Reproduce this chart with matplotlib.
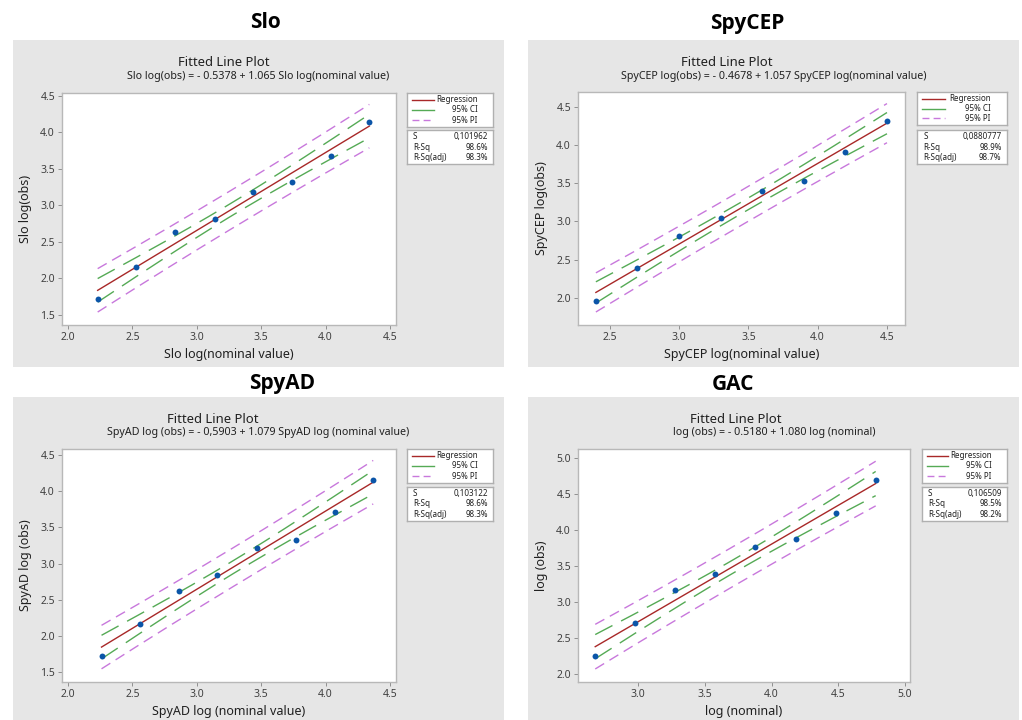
import numpy as np
import matplotlib
matplotlib.use("Agg")
import matplotlib.pyplot as plt
from matplotlib.patches import Rectangle

W, H = 1022, 720

# values
slo_x = [2.23, 2.53, 2.83, 3.14, 3.44, 3.74, 4.04, 4.34]
slo_y = [1.72, 2.15, 2.63, 2.82, 3.18, 3.32, 3.68, 4.14]
slo_coef = (-0.5378, 1.065)
slo_s, slo_rsq, slo_rsq_adj = 0.101962, 98.6, 98.3

spycep_x = [2.4, 2.7, 3.0, 3.3, 3.6, 3.9, 4.2, 4.5]
spycep_y = [1.96, 2.39, 2.81, 3.04, 3.40, 3.53, 3.91, 4.32]
spycep_coef = (-0.4678, 1.057)
spycep_s, spycep_rsq, spycep_rsq_adj = 0.0880777, 98.9, 98.7

spyad_x = [2.26, 2.56, 2.86, 3.16, 3.47, 3.77, 4.07, 4.37]
spyad_y = [1.73, 2.17, 2.62, 2.84, 3.22, 3.32, 3.72, 4.16]
spyad_coef = (-0.5903, 1.079)
spyad_s, spyad_rsq, spyad_rsq_adj = 0.103122, 98.6, 98.3

gac_x = [2.68, 2.98, 3.28, 3.58, 3.88, 4.18, 4.48, 4.78]
gac_y = [2.24, 2.70, 3.17, 3.38, 3.76, 3.88, 4.24, 4.69]
gac_coef = (-0.5180, 1.080)
gac_s, gac_rsq, gac_rsq_adj = 0.106509, 98.5, 98.2

T_CRIT = 2.447  # t(0.975) with 6 degrees of freedom

FONT = ["Noto Sans", "DejaVu Sans"]
TITLE_FONT = ["Open Sans", "DejaVu Sans"]
plt.rcParams["font.family"] = FONT

GRAY_BG = "#E6E6E6"
RED = "#A82828"
GREEN = "#55AA55"
PURPLE = "#C878DC"
BLUE = "#0B55A8"


def px_rect(l, t, r, b):
    """Pixel box (top-left origin) -> figure fraction rect."""
    return [l / W, 1 - b / H, (r - l) / W, (b - t) / H]


def draw_panel(fig, x, y, coef, s, rsq, rsq_adj, lay):
    """One fitted line plot: gray card, titles, scatter, fit, CI and PI bands, legend boxes."""
    l, t, r, b = lay["card"]
    fig.patches.append(Rectangle((l / W, 1 - b / H), (r - l) / W, (b - t) / H,
                                 transform=fig.transFigure, facecolor=GRAY_BG,
                                 edgecolor="none", zorder=-5))
    fig.text(lay["name_xy"][0] / W, 1 - lay["name_xy"][1] / H, lay["name"],
             ha="center", va="center", fontsize=15, fontweight="bold", family=TITLE_FONT)
    fig.text(lay["fit_xy"][0] / W, 1 - lay["fit_xy"][1] / H, "Fitted Line Plot",
             ha="center", va="center", fontsize=9.4, color="#202020")
    fig.text(lay["eq_xy"][0] / W, 1 - lay["eq_xy"][1] / H, lay["equation"],
             ha="center", va="center", fontsize=7.7, color="#202020")

    ax = fig.add_axes(px_rect(*lay["axes"]))
    x = np.asarray(x)
    y = np.asarray(y)
    b0, b1 = coef
    n = len(x)
    xbar = x.mean()
    sxx = ((x - xbar) ** 2).sum()
    xs = np.linspace(x.min(), x.max(), 200)
    fit = b0 + b1 * xs
    se_fit = s * np.sqrt(1 / n + (xs - xbar) ** 2 / sxx)
    se_pred = s * np.sqrt(1 + 1 / n + (xs - xbar) ** 2 / sxx)

    for sign in (1, -1):
        ax.plot(xs, fit + sign * T_CRIT * se_pred, color=PURPLE, lw=1.0,
                dashes=(7.5, 4.5), zorder=2)
        ax.plot(xs, fit + sign * T_CRIT * se_fit, color=GREEN, lw=1.0,
                dashes=(14, 7), zorder=2)
    ax.plot(xs, fit, color=RED, lw=1.0, zorder=3)
    ax.scatter(x, y, s=18, color=BLUE, zorder=4, linewidths=0)

    ax.set_xlim(*lay["xlim"])
    ax.set_ylim(*lay["ylim"])
    ax.set_xticks(lay["xticks"])
    ax.set_yticks(lay["yticks"])
    ax.set_xticklabels([f"{v:.1f}" for v in lay["xticks"]])
    ax.set_yticklabels([f"{v:.1f}" for v in lay["yticks"]])
    ax.tick_params(direction="out", length=3, width=0.7, color="#909090",
                   labelsize=7.5, labelcolor="#404040", pad=2)
    for sp in ax.spines.values():
        sp.set_color("#B8B8B8")
        sp.set_linewidth(1.0)
    ax.set_xlabel(lay["xlabel"], fontsize=9, color="#202020", labelpad=4)
    ax.set_ylabel(lay["ylabel"], fontsize=9, color="#202020", labelpad=6)

    # legend box
    lg = fig.add_axes(px_rect(*lay["legend"]))
    lg.set_xlim(0, 1)
    lg.set_ylim(0, 1)
    lg.set_xticks([])
    lg.set_yticks([])
    for sp in lg.spines.values():
        sp.set_color("#B0B0B0")
        sp.set_linewidth(1.0)
    rows = [("Regression", RED, None), ("95% CI", GREEN, None), ("95% PI", PURPLE, (5, 3))]
    for i, (lab, col, dash) in enumerate(rows):
        yy = 0.8 - i * 0.3
        kw = {"dashes": dash} if dash else {}
        lg.plot([0.06, 0.31], [yy, yy], color=col, lw=1.0, **kw)
        lg.text(0.82, yy, lab, ha="right", va="center", fontsize=5.8, color="#202020")

    st = fig.add_axes(px_rect(*lay["stats"]))
    st.set_xlim(0, 1)
    st.set_ylim(0, 1)
    st.set_xticks([])
    st.set_yticks([])
    for sp in st.spines.values():
        sp.set_color("#B0B0B0")
        sp.set_linewidth(1.0)
    s_txt = f"{s:.7g}".replace(".", ",")
    stat_rows = [("S", s_txt), ("R-Sq", f"{rsq:.1f}%"), ("R-Sq(adj)", f"{rsq_adj:.1f}%")]
    for i, (lab, val) in enumerate(stat_rows):
        yy = 0.8 - i * 0.3
        st.text(0.07, yy, lab, ha="left", va="center", fontsize=5.8, color="#202020")
        st.text(0.94, yy, val, ha="right", va="center", fontsize=5.8, color="#202020")


fig = plt.figure(figsize=(W / 100, H / 100), dpi=100)
fig.patch.set_facecolor("white")

draw_panel(fig, slo_x, slo_y, slo_coef, slo_s, slo_rsq, slo_rsq_adj, {
    "card": (13, 40, 504, 367),
    "name": "Slo", "name_xy": (265, 23),
    "fit_xy": (224, 62),
    "eq_xy": (258, 77), "equation": "Slo log(obs) = - 0.5378 + 1.065 Slo log(nominal value)",
    "axes": (62, 93, 396, 325),
    "xlim": (1.953, 4.547), "ylim": (1.363, 4.537),
    "xticks": [2.0, 2.5, 3.0, 3.5, 4.0, 4.5], "yticks": [1.5, 2.0, 2.5, 3.0, 3.5, 4.0, 4.5],
    "xlabel": "Slo log(nominal value)", "ylabel": "Slo log(obs)",
    "legend": (407, 93, 493, 127), "stats": (407, 130, 493, 164),
})

draw_panel(fig, spycep_x, spycep_y, spycep_coef, spycep_s, spycep_rsq, spycep_rsq_adj, {
    "card": (528, 40, 1019, 367),
    "name": "SpyCEP", "name_xy": (747, 23),
    "fit_xy": (727, 62),
    "eq_xy": (774, 77), "equation": "SpyCEP log(obs) = - 0.4678 + 1.057 SpyCEP log(nominal value)",
    "axes": (578, 92, 905, 325),
    "xlim": (2.271, 4.63), "ylim": (1.642, 4.697),
    "xticks": [2.5, 3.0, 3.5, 4.0, 4.5], "yticks": [2.0, 2.5, 3.0, 3.5, 4.0, 4.5],
    "xlabel": "SpyCEP log(nominal value)", "ylabel": "SpyCEP log(obs)",
    "legend": (917, 92, 1007, 125), "stats": (917, 130, 1007, 164),
})

draw_panel(fig, spyad_x, spyad_y, spyad_coef, spyad_s, spyad_rsq, spyad_rsq_adj, {
    "card": (13, 397, 504, 720),
    "name": "SpyAD", "name_xy": (282, 384),
    "fit_xy": (213, 419),
    "eq_xy": (258, 433), "equation": "SpyAD log (obs) = - 0,5903 + 1.079 SpyAD log (nominal value)",
    "axes": (62, 449, 396, 682),
    "xlim": (1.953, 4.547), "ylim": (1.366, 4.583),
    "xticks": [2.0, 2.5, 3.0, 3.5, 4.0, 4.5], "yticks": [1.5, 2.0, 2.5, 3.0, 3.5, 4.0, 4.5],
    "xlabel": "SpyAD log (nominal value)", "ylabel": "SpyAD log (obs)",
    "legend": (407, 449, 493, 483), "stats": (407, 487, 493, 521),
})

draw_panel(fig, gac_x, gac_y, gac_coef, gac_s, gac_rsq, gac_rsq_adj, {
    "card": (528, 397, 1019, 720),
    "name": "GAC", "name_xy": (733, 384),
    "fit_xy": (736, 419),
    "eq_xy": (774, 433), "equation": "log (obs) = - 0.5180 + 1.080 log (nominal)",
    "axes": (578, 449, 910, 682),
    "xlim": (2.551, 5.037), "ylim": (1.885, 5.125),
    "xticks": [3.0, 3.5, 4.0, 4.5, 5.0], "yticks": [2.0, 2.5, 3.0, 3.5, 4.0, 4.5, 5.0],
    "xlabel": "log (nominal)", "ylabel": "log (obs)",
    "legend": (922, 449, 1007, 483), "stats": (922, 487, 1007, 521),
})

fig.savefig("out.png", dpi=100)
